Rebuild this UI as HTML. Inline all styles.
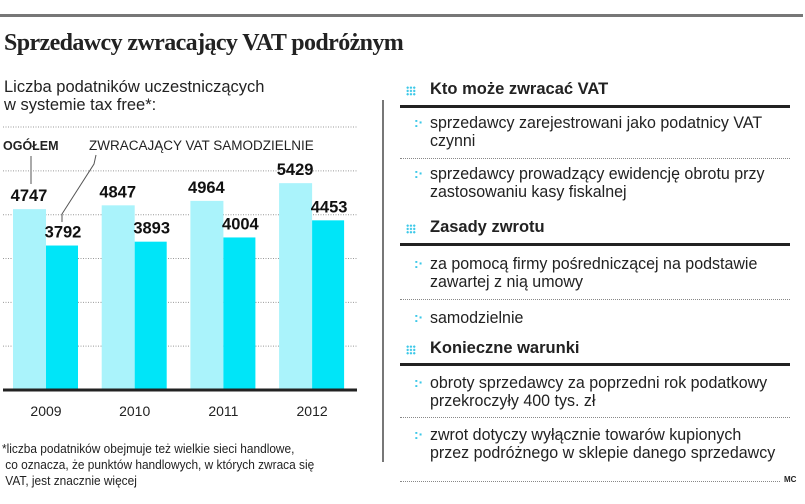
<!DOCTYPE html>
<html><head><meta charset="utf-8"><style>
body{margin:0;width:805px;height:504px;background:#fff;position:relative;overflow:hidden;font-family:"Liberation Sans",sans-serif;color:#222}
.a{position:absolute;white-space:nowrap}
.h{font-weight:bold;font-size:16.5px;left:430px}
.ic{position:absolute;left:406px;width:10px;height:10px;background:radial-gradient(circle,#3cc8e8 1px,transparent 1.3px) 0 0/3.3px 3.3px}
.rule{position:absolute;left:400px;width:390px;height:3px;background:#222}
.dot{position:absolute;left:400px;width:390px;border-top:1px dotted #888}
.it{font-size:16.5px;left:430px;line-height:18px;transform:scaleX(0.97);transform-origin:0 0}
.bl{position:absolute;left:414px;color:#3cc8e8;font-size:14px;font-weight:bold}
</style></head><body>
<div class="a" style="left:0;top:14px;width:803px;height:3px;background:#777"></div>
<div class="a" style="left:4px;top:30px;font-family:'Liberation Serif',serif;font-weight:bold;font-size:24px;letter-spacing:-0.6px">Sprzedawcy zwracający VAT podróżnym</div>
<div class="a" style="left:4px;top:78px;font-size:16.5px;line-height:18px">Liczba podatników uczestniczących<br>w systemie tax free*:</div>
<div class="a" style="left:382px;top:100px;width:2px;height:362px;background:#777"></div>
<svg class="a" style="left:0;top:0" width="390" height="430" id="chart"></svg>
<div class="a" style="left:2px;top:441px;font-size:12.5px;line-height:16px;transform:scaleX(0.95);transform-origin:0 0">*liczba podatników obejmuje też wielkie sieci handlowe,<br>&nbsp;co oznacza, że punktów handlowych, w których zwraca się<br>&nbsp;VAT, jest znacznie więcej</div>

<div class="ic" style="top:86px"></div>
<div class="a h" style="top:80px">Kto może zwracać VAT</div>
<div class="rule" style="top:105px"></div>
<div class="bl" style="top:114px">:·</div>
<div class="a it" style="top:114px">sprzedawcy zarejestrowani jako podatnicy VAT<br>czynni</div>
<div class="dot" style="top:158px"></div>
<div class="bl" style="top:165px">:·</div>
<div class="a it" style="top:165px">sprzedawcy prowadzący ewidencję obrotu przy<br>zastosowaniu kasy fiskalnej</div>

<div class="ic" style="top:224px"></div>
<div class="a h" style="top:218px">Zasady zwrotu</div>
<div class="rule" style="top:243px"></div>
<div class="bl" style="top:255px">:·</div>
<div class="a it" style="top:255px">za pomocą firmy pośredniczącej na podstawie<br>zawartej z nią umowy</div>
<div class="dot" style="top:299px"></div>
<div class="bl" style="top:309px">:·</div>
<div class="a it" style="top:309px">samodzielnie</div>

<div class="ic" style="top:345px"></div>
<div class="a h" style="top:339px">Konieczne warunki</div>
<div class="rule" style="top:363px"></div>
<div class="bl" style="top:374px">:·</div>
<div class="a it" style="top:374px">obroty sprzedawcy za poprzedni rok podatkowy<br>przekroczyły 400 tys. zł</div>
<div class="dot" style="top:417px"></div>
<div class="bl" style="top:426px">:·</div>
<div class="a it" style="top:426px">zwrot dotyczy wyłącznie towarów kupionych<br>przez podróżnego w sklepie danego sprzedawcy</div>
<div class="dot" style="top:481px;width:380px"></div>
<div class="a" style="left:784px;top:475px;font-size:8px;font-weight:bold">MC</div>

<script>
const years=["2009","2010","2011","2012"];
const total=[4747,4847,4964,5429];
const selfRefund=[3792,3893,4004,4453];
const gridTicks=[1150,2300,3450,4600,5750];
const svg=document.getElementById('chart');
const NS='http://www.w3.org/2000/svg';
const base=390,scale=0.0381;
const y=v=>base-v*scale;
const x0=i=>13+i*88.7;
function mk(t,a){const e=document.createElementNS(NS,t);for(const k in a)e.setAttribute(k,a[k]);svg.appendChild(e);return e;}
gridTicks.forEach(v=>{const l=mk('line',{x1:3,x2:357,y1:y(v),y2:y(v),stroke:'#999','stroke-dasharray':'1 1.5'});

});
const tl=mk('line',{x1:3,x2:357,y1:127,y2:127,stroke:'#999','stroke-dasharray':'1 1.5'});


years.forEach((yr,i)=>{
const r1=mk('rect',{x:x0(i),y:y(total[i]),width:33,height:total[i]*scale,fill:'#aaf3fb'});


const r2=mk('rect',{x:x0(i)+33,y:y(selfRefund[i]),width:32,height:selfRefund[i]*scale,fill:'#00e5f8'});


const t1=mk('text',{x:x0(i)+16,y:y(total[i])-8,'text-anchor':'middle','font-size':16.5,'font-weight':'bold','font-family':'Liberation Sans, sans-serif',fill:'#111'});
t1.textContent=total[i];


const t2=mk('text',{x:x0(i)+50,y:y(selfRefund[i])-8,'text-anchor':'middle','font-size':16.5,'font-weight':'bold','font-family':'Liberation Sans, sans-serif',fill:'#111'});
t2.textContent=selfRefund[i];


const t3=mk('text',{x:x0(i)+33,y:416,'text-anchor':'middle','font-size':14,'font-family':'Liberation Sans, sans-serif',fill:'#222'});
t3.textContent=yr;


});
const ax=mk('line',{x1:3,x2:357,y1:base,y2:base,stroke:'#222','stroke-width':3});


const l1=mk('text',{x:3,y:150,'font-size':12.5,'font-weight':'bold','font-family':'Liberation Sans, sans-serif',fill:'#222'});l1.textContent='OGÓŁEM';


const l2=mk('text',{x:89,y:150,'font-size':13.5,'font-family':'Liberation Sans, sans-serif',fill:'#222'});l2.textContent='ZWRACAJĄCY VAT SAMODZIELNIE';


const p1=mk('path',{d:'M31 156 V184',stroke:'#555',fill:'none'});


const p2=mk('path',{d:'M96 155 L94 164 L62 214 V222',stroke:'#555',fill:'none'});


</script>
</body></html>
